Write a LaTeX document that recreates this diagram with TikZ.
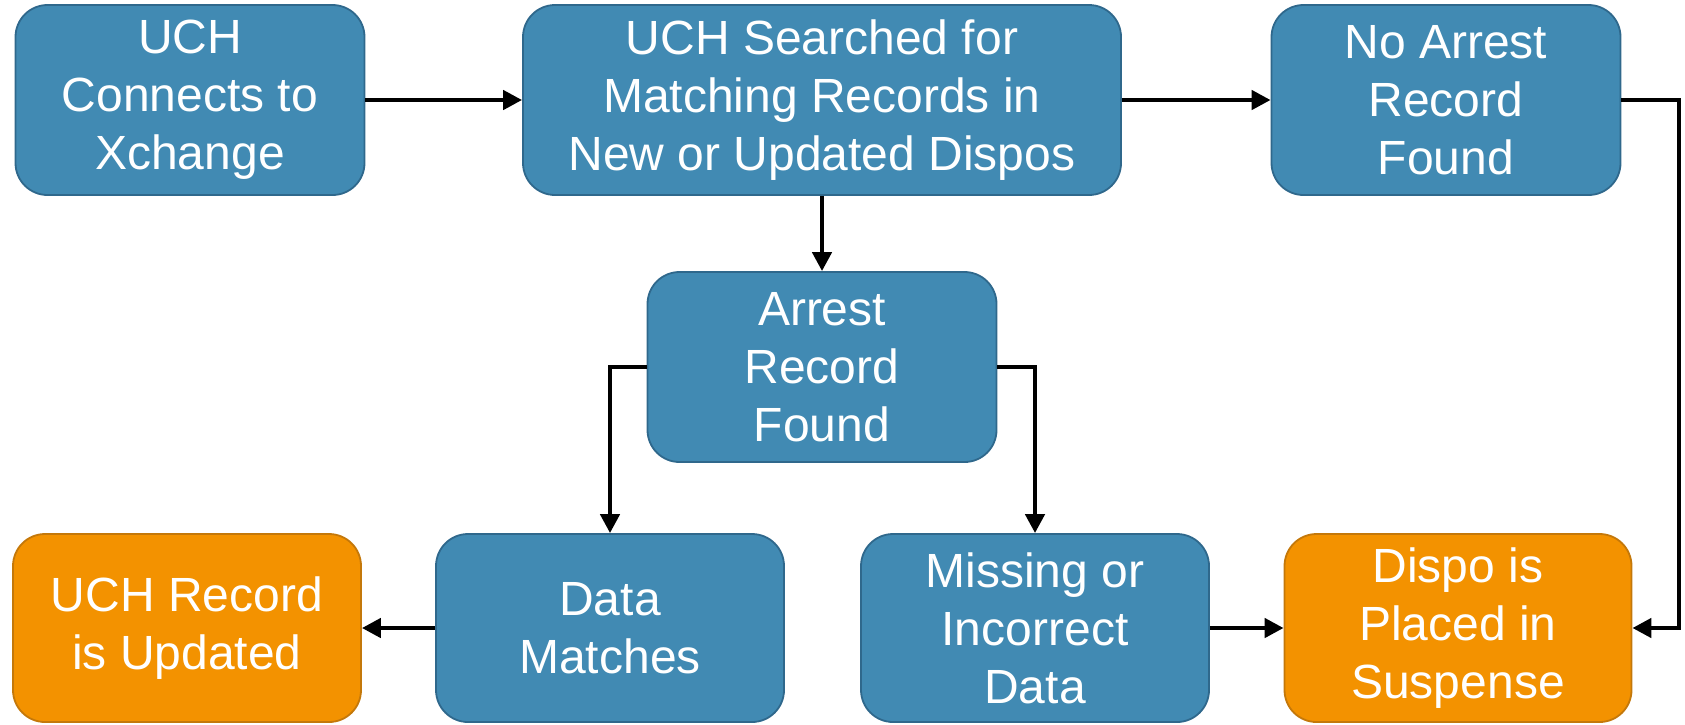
\documentclass[tikz,border=0pt]{standalone}
\usepackage{fontspec}
\setmainfont{Liberation Sans}
\usetikzlibrary{arrows.meta}
\definecolor{boxblue}{RGB}{65,138,179}
\definecolor{boxblueline}{RGB}{47,104,140}
\definecolor{boxorange}{RGB}{243,146,0}
\definecolor{boxorangeline}{RGB}{196,120,10}
\tikzset{
  stepbox/.style={rectangle, rounded corners=32pt, draw=boxblueline, fill=boxblue,
    line width=1.8pt, text=white, align=center, inner sep=0pt,
    font=\fontsize{48}{58}\selectfont, minimum height=190pt},
  endbox/.style={stepbox, draw=boxorangeline, fill=boxorange},
  arr/.style={line width=4.5pt, -{Triangle[length=19pt,width=19pt]}}
}
\begin{document}
\begin{tikzpicture}[x=1pt,y=-1pt]
\useasboundingbox (0,0) rectangle (1685,724);
\node[stepbox, minimum width=349pt] (b1) at (190,100) {UCH\\Connects to\\Xchange};
\node[stepbox, minimum width=598pt] (b2) at (822,100) {UCH Searched for\\Matching Records in\\New or Updated Dispos};
\node[stepbox, minimum width=349pt] (b3) at (1446,100) {No Arrest\\Record\\Found};
\node[stepbox, minimum width=349pt] (b4) at (822,367) {Arrest\\Record\\Found};
\node[endbox, minimum width=348pt, minimum height=188pt] (b5) at (187,628) {UCH Record\\is Updated};
\node[stepbox, minimum width=348pt, minimum height=188pt] (b6) at (610,628) {Data\\Matches};
\node[stepbox, minimum width=348pt, minimum height=188pt] (b7) at (1035,628) {Missing or\\Incorrect\\Data};
\node[endbox, minimum width=347pt, minimum height=188pt] (b8) at (1458,628) {Dispo is\\Placed in\\Suspense};
\coordinate (c3) at (1679,100);
\draw[arr] (b1.east) -- (b2.west);
\draw[arr] (b2.east) -- (b3.west);
\draw[arr] (b2.south) -- (b4.north);
\draw[arr] (b3.east) -- (c3) |- (b8.east);
\draw[arr] (b4.west) -| (b6.north);
\draw[arr] (b4.east) -| (b7.north);
\draw[arr] (b6.west) -- (b5.east);
\draw[arr] (b7.east) -- (b8.west);
\end{tikzpicture}
\end{document}
